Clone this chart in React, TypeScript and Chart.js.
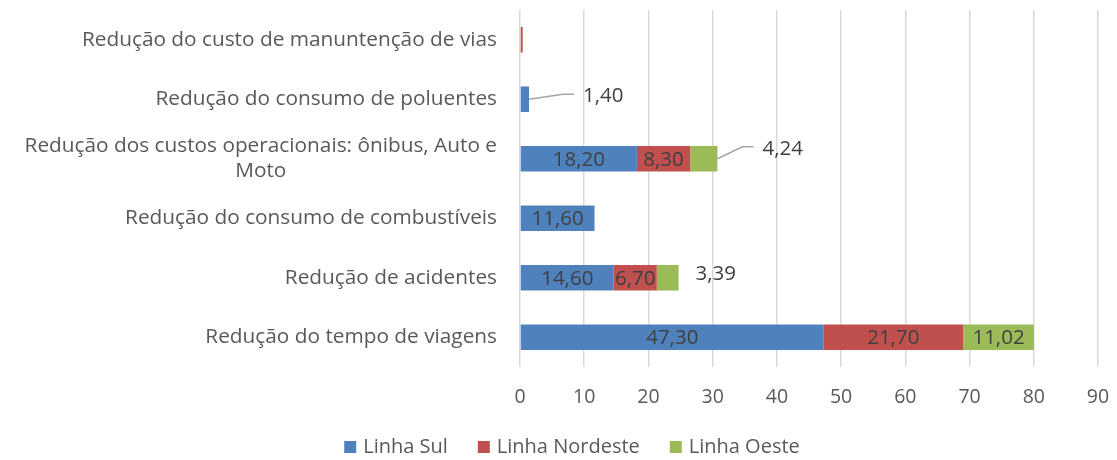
import React, { useEffect, useRef } from "react";
import { Chart, registerables } from "chart.js";

Chart.register(...registerables);

const categories: (string | string[])[] = [
  "Redução do custo de manuntenção de vias",
  "Redução do consumo de poluentes",
  ["Redução dos custos operacionais: ônibus, Auto e", "Moto"],
  "Redução do consumo de combustíveis",
  "Redução de acidentes",
  "Redução do tempo de viagens",
];

const seriesNames = ["Linha Sul", "Linha Nordeste", "Linha Oeste"];
const linhaSul = [0.12, 1.4, 18.2, 11.6, 14.6, 47.3];
const linhaNordeste = [0.3, 0, 8.3, 0, 6.7, 21.7];
const linhaOeste = [0, 0, 4.24, 0, 3.39, 11.02];
const seriesColors = ["#4F81BD", "#C0504D", "#9BBB59"];

const xTicksMin = 0;
const xTicksMax = 90;
const xTicksStep = 10;

// labels drawn outside the bar (dataset index, category index, offsets, leader line)
const callouts = [
  { ds: 0, idx: 1, dx: 54, dy: -3, line: true },
  { ds: 2, idx: 2, dx: 45, dy: -10, line: true },
  { ds: 2, idx: 4, dx: 17, dy: -4, line: false },
];

const FONT = "'Open Sans', sans-serif";
const fmt = (v: number) => v.toFixed(2).replace(".", ",");

const labelPlugin = {
  id: "customLabels",
  afterDatasetsDraw(chart: any) {
    const ctx = chart.ctx;
    ctx.save();
    ctx.font = `20.5px ${FONT}`;
    ctx.fillStyle = "#404040";
    ctx.textBaseline = "middle";
    chart.data.datasets.forEach((ds: any, di: number) => {
      const meta = chart.getDatasetMeta(di);
      ds.data.forEach((v: number, i: number) => {
        if (!v || v < 1) return;
        const el = meta.data[i];
        const co = callouts.find((c) => c.ds === di && c.idx === i);
        const xEnd = el.x;
        const xStart = el.base;
        const y = el.y;
        if (co) {
          const tx = xEnd + co.dx;
          const ty = y + co.dy;
          if (co.line) {
            ctx.strokeStyle = "#A6A6A6";
            ctx.lineWidth = 1.5;
            ctx.beginPath();
            ctx.moveTo(xEnd, y);
            ctx.lineTo(tx - 20, ty - 2);
            ctx.lineTo(tx - 9, ty - 2);
            ctx.stroke();
          }
          ctx.textAlign = "left";
          ctx.fillText(fmt(v), tx, ty);
        } else {
          ctx.textAlign = "center";
          ctx.fillText(fmt(v), (xStart + xEnd) / 2, y + 1);
        }
      });
    });
    ctx.restore();
  },
  afterDraw(chart: any) {
    const ctx = chart.ctx;
    const yScale = chart.scales.y;
    const right = chart.chartArea.left - 23;
    ctx.save();
    // category labels
    ctx.font = `20.8px ${FONT}`;
    ctx.fillStyle = "#595959";
    ctx.textBaseline = "middle";
    ctx.textAlign = "center";
    const lh = 25;
    chart.data.labels.forEach((lab: string | string[], i: number) => {
      const lines = Array.isArray(lab) ? lab : [lab];
      const w = Math.max(...lines.map((l) => ctx.measureText(l).width));
      const cx = right - w / 2;
      const cy = yScale.getPixelForValue(i);
      const top = cy - ((lines.length - 1) * lh) / 2;
      lines.forEach((l, k) => ctx.fillText(l, cx, top + k * lh));
    });
    // legend
    ctx.font = `20px ${FONT}`;
    ctx.textAlign = "left";
    const box = 12;
    const gapText = 7;
    const gapItem = 30;
    const items = chart.data.datasets.map((ds: any) => ({
      text: ds.label as string,
      color: ds.backgroundColor as string,
      w: ctx.measureText(ds.label).width,
    }));
    const total =
      items.reduce((a: number, it: any) => a + box + gapText + it.w, 0) +
      gapItem * (items.length - 1);
    let x = 572 - total / 2;
    const ly = 447;
    items.forEach((it: any) => {
      ctx.fillStyle = it.color;
      ctx.fillRect(x, ly - box / 2, box, box);
      ctx.fillStyle = "#595959";
      ctx.fillText(it.text, x + box + gapText, ly);
      x += box + gapText + it.w + gapItem;
    });
    ctx.restore();
  },
};

export default function App() {
  const ref = useRef<HTMLCanvasElement>(null);
  useEffect(() => {
    document.body.style.margin = "0";
    Chart.defaults.font.family = FONT;
    const chart = new Chart(ref.current!, {
      type: "bar",
      data: {
        labels: categories as any,
        datasets: [linhaSul, linhaNordeste, linhaOeste].map((d, k) => ({
          label: seriesNames[k],
          data: d,
          backgroundColor: seriesColors[k],
          borderWidth: 0,
          barPercentage: 0.43,
          categoryPercentage: 1,
        })),
      },
      options: {
        indexAxis: "y",
        responsive: false,
        animation: false,
        layout: { padding: { left: 0, right: 19, top: 10, bottom: 0 } },
        scales: {
          x: {
            stacked: true,
            min: xTicksMin,
            max: xTicksMax,
            ticks: {
              stepSize: xTicksStep,
              color: "#595959",
              font: { size: 19.5 },
              padding: 19,
            },
            grid: { color: "#D9D9D9", lineWidth: 1.5, drawTicks: false },
            border: { display: false },
            afterFit: (s: any) => {
              s.height = 93;
              s.paddingLeft = 0;
              s.paddingRight = 0;
            },
          },
          y: {
            stacked: true,
            ticks: { display: false },
            grid: { display: false },
            border: { display: false },
            afterFit: (s: any) => {
              s.width = 520;
            },
          },
        },
        plugins: {
          legend: { display: false },
          tooltip: { enabled: false },
        },
      },
      plugins: [labelPlugin],
    });
    return () => chart.destroy();
  }, []);
  return (
    <div style={{ width: 1117, height: 460 }}>
      <canvas ref={ref} width={1117} height={460} />
    </div>
  );
}
